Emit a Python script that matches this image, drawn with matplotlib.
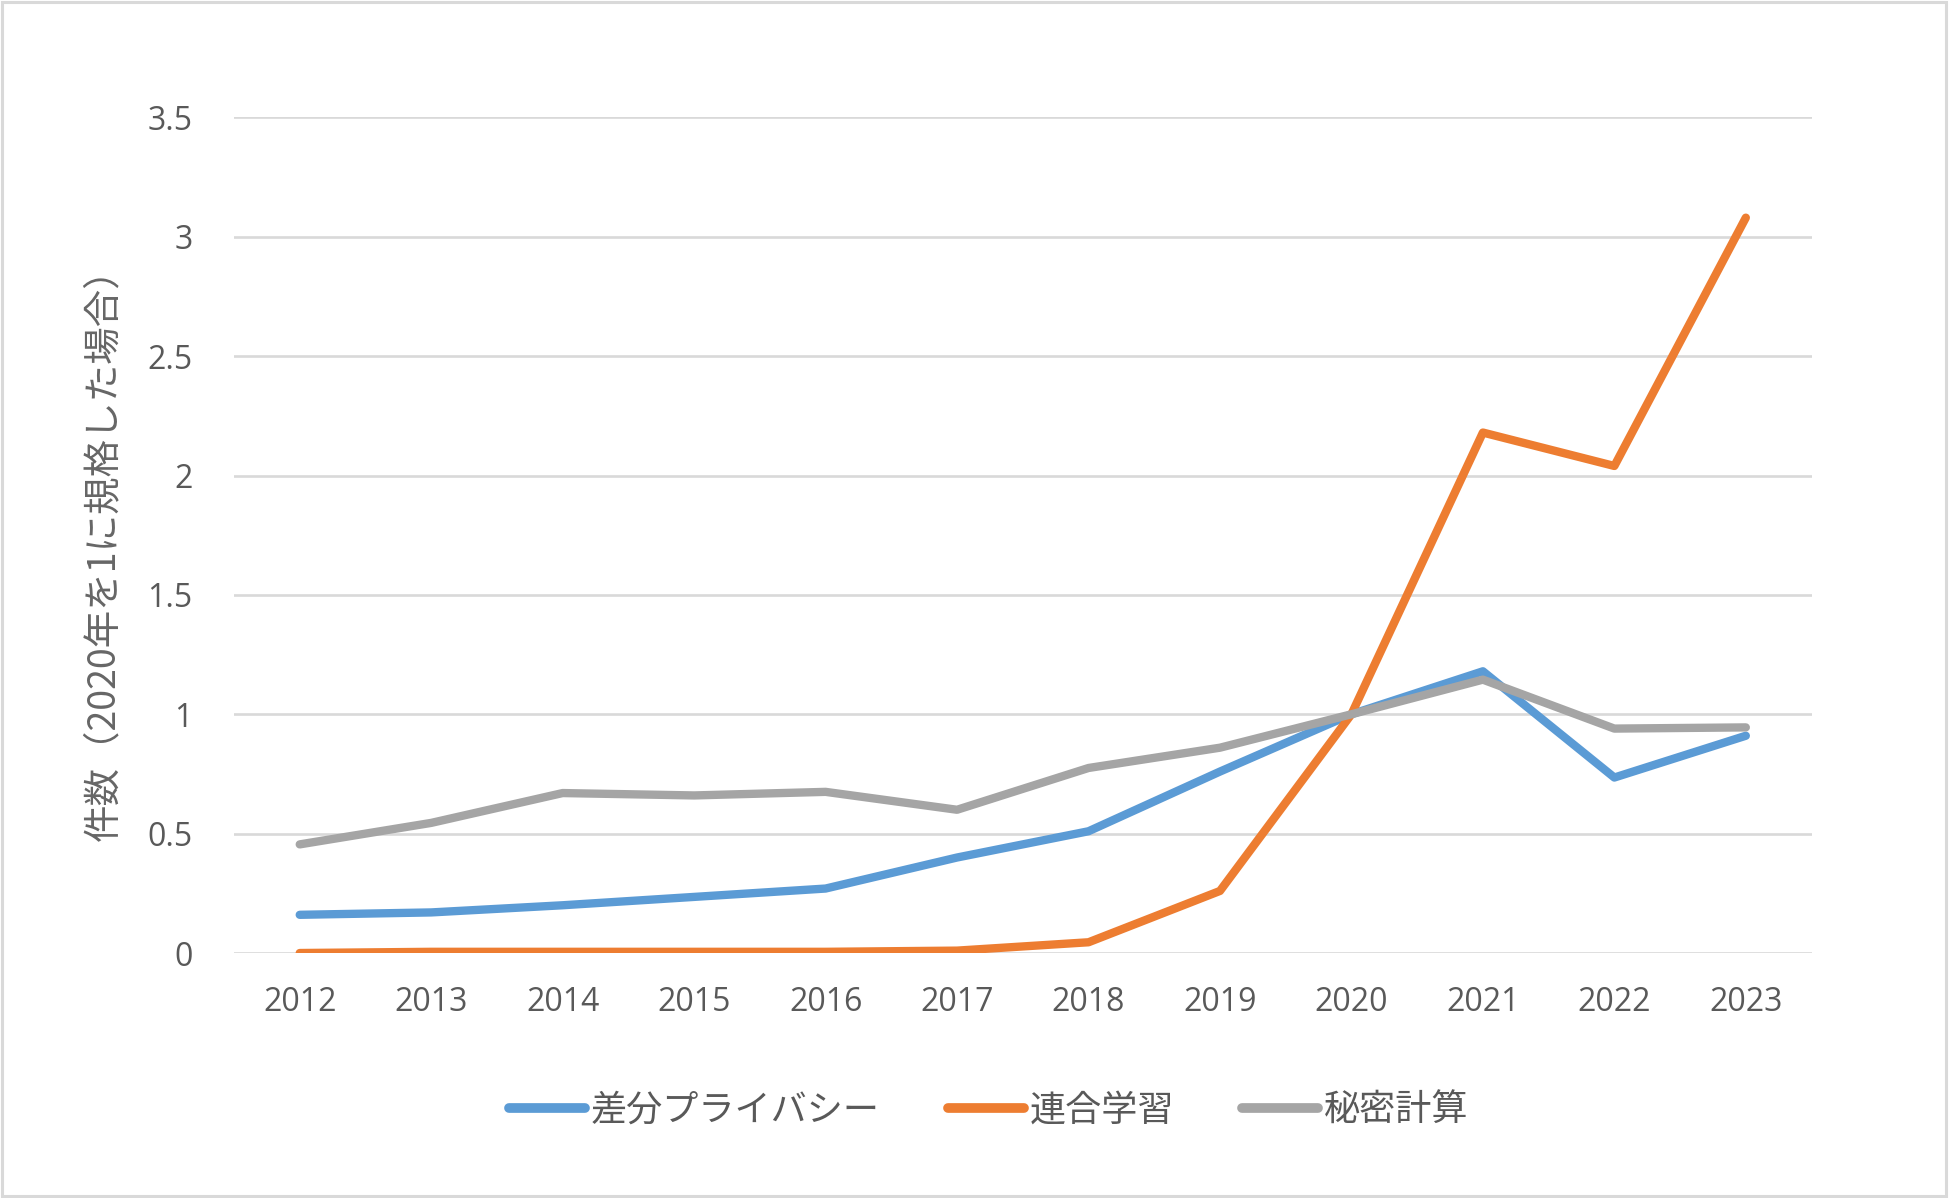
import matplotlib
matplotlib.use("Agg")
import matplotlib.pyplot as plt
from matplotlib.patches import Rectangle

plt.rcParams['font.family'] = ['Noto Sans CJK JP', 'DejaVu Sans']

years = ["2012", "2013", "2014", "2015", "2016", "2017",
         "2018", "2019", "2020", "2021", "2022", "2023"]
dp = [0.16, 0.17, 0.20, 0.235, 0.27, 0.40, 0.51, 0.76, 1.0, 1.18, 0.735, 0.91]
fl = [0.0, 0.005, 0.005, 0.005, 0.005, 0.01, 0.045, 0.26, 1.0, 2.18, 2.04, 3.08]
mpc = [0.455, 0.545, 0.67, 0.66, 0.675, 0.60, 0.775, 0.86, 1.0, 1.145, 0.94, 0.945]
names = ["差分プライバシー", "連合学習", "秘密計算"]
colors = ["#5B9BD5", "#ED7D31", "#A5A5A5"]
yticks = [0, 0.5, 1, 1.5, 2, 2.5, 3, 3.5]
ylabels = ["0", "0.5", "1", "1.5", "2", "2.5", "3", "3.5"]

txt = "#595959"

fig = plt.figure(figsize=(19.5, 11.98), dpi=100)
ax = fig.add_axes([0.12, 0.2045, 0.809, 0.6975])

x = list(range(len(years)))
for vals, name, c in zip([dp, fl, mpc], names, colors):
    ax.plot(x, vals, color=c, lw=6.0, label=name,
            solid_capstyle="round", solid_joinstyle="round", zorder=3)

ax.set_xlim(-0.5, len(years) - 0.5)
ax.set_ylim(0, 3.5)
ax.set_yticks(yticks)
ax.set_yticklabels(ylabels, family=['Open Sans', 'DejaVu Sans'])
ax.set_xticks(x)
ax.set_xticklabels(years, family=['Open Sans', 'DejaVu Sans'])
ax.tick_params(axis="both", length=0, labelsize=23, colors=txt)
ax.tick_params(axis="y", pad=30)
ax.tick_params(axis="x", pad=24)
ax.grid(axis="y", color="#D9D9D9", lw=1.9, zorder=0)
ax.set_axisbelow(True)
for s in ax.spines.values():
    s.set_visible(False)

fig.text(0.053, 0.545, "件数（2020年を1に規格した場合）", rotation=90,
         ha="center", va="center", fontsize=27, color="#666666")

leg = fig.legend(loc="center", bbox_to_anchor=(0.507, 0.073), ncol=3,
                 frameon=False, fontsize=26, handlelength=2.1,
                 handletextpad=0.15, columnspacing=1.9)
for t in leg.get_texts():
    t.set_color(txt)
for h in leg.get_lines():
    h.set_linewidth(7)
    h.set_solid_capstyle("round")

fig.patches.append(Rectangle((0.001, 0.002), 0.997, 0.996, transform=fig.transFigure,
                             fill=False, edgecolor="#D9D9D9", lw=2.2))

fig.savefig("out.png", dpi=100, facecolor="white")
